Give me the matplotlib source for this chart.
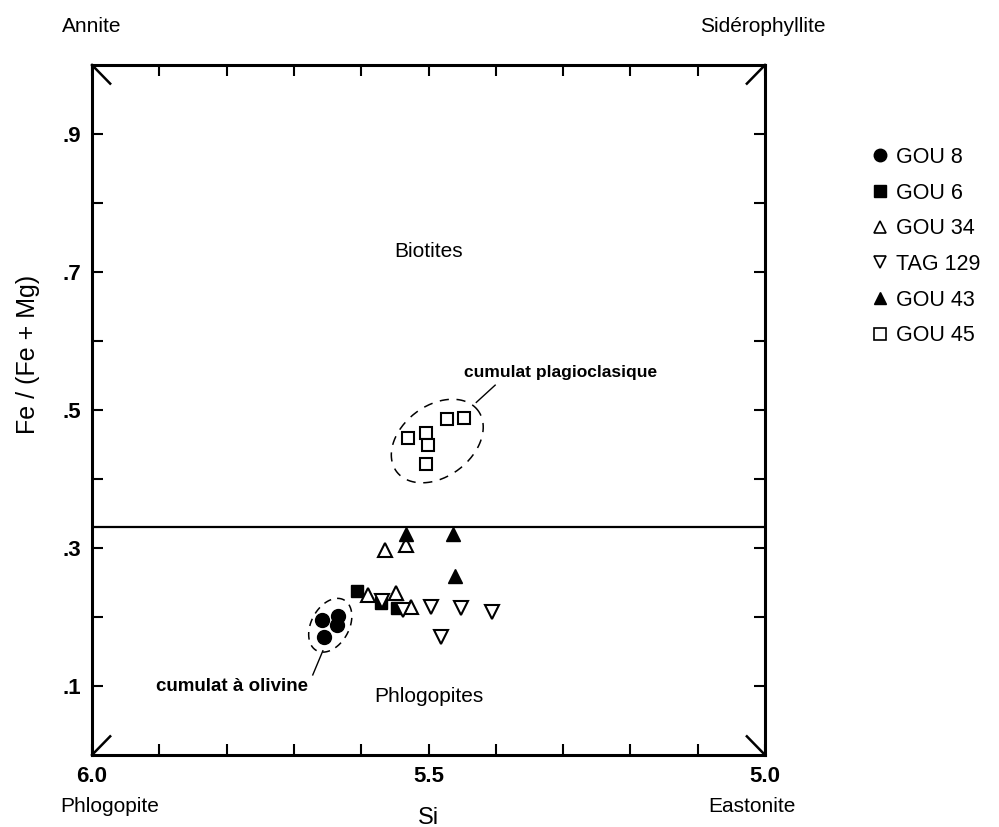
# Fe/(Fe+Mg) vs Si diagram for micas (phlogopite - biotite)
import numpy as np
import matplotlib.pyplot as plt
from matplotlib.lines import Line2D

plt.rcParams['font.family'] = ['Liberation Sans', 'DejaVu Sans']

# data
gou8_si = [5.658, 5.634, 5.636, 5.655]
gou8_fe = [0.196, 0.201, 0.188, 0.171]

gou6_si = [5.606, 5.571, 5.547]
gou6_fe = [0.238, 0.220, 0.213]

gou34_si = [5.565, 5.533, 5.590, 5.548, 5.526]
gou34_fe = [0.297, 0.304, 0.232, 0.235, 0.214]

tag129_si = [5.569, 5.538, 5.496, 5.481, 5.452, 5.406]
tag129_fe = [0.223, 0.210, 0.214, 0.171, 0.213, 0.207]

gou43_si = [5.533, 5.464, 5.461]
gou43_fe = [0.320, 0.320, 0.259]

gou45_si = [5.531, 5.504, 5.501, 5.504, 5.473, 5.448]
gou45_fe = [0.460, 0.467, 0.449, 0.422, 0.487, 0.489]

biotite_limit = 0.33

fig = plt.figure(figsize=(9.99, 8.27), dpi=100)
ax = fig.add_axes([0.0921, 0.0871, 0.6737, 0.8343])

ax.set_xlim(6.0, 5.0)
ax.set_ylim(0, 1.0)

ms = 10
ax.plot(gou8_si, gou8_fe, 'o', color='black', ms=ms, label='GOU 8')
ax.plot(gou6_si, gou6_fe, 's', color='black', ms=ms - 1, label='GOU 6')
ax.plot(gou34_si, gou34_fe, '^', mfc='white', mec='black', mew=1.5, ms=ms, label='GOU 34')
ax.plot(tag129_si, tag129_fe, 'v', mfc='white', mec='black', mew=1.5, ms=ms, label='TAG 129')
ax.plot(gou43_si, gou43_fe, '^', color='black', ms=ms, label='GOU 43')
ax.plot(gou45_si, gou45_fe, 's', mfc='white', mec='black', mew=1.5, ms=ms - 1, label='GOU 45')

ax.axhline(biotite_limit, color='black', lw=1.6)

# dashed envelopes around the cumulates
def envelope(u0, v0, a, b, ang):
    t = np.linspace(0, 2 * np.pi, 200)
    th = np.radians(ang)
    u = u0 + a * np.cos(t) * np.cos(th) - b * np.sin(t) * np.sin(th)
    v = v0 + a * np.cos(t) * np.sin(th) + b * np.sin(t) * np.cos(th)
    return 6.0 - u, v

ex, ey = envelope(0.513, 0.455, 0.075, 0.052, 35)
ax.plot(ex, ey, color='black', lw=1.1, ls=(0, (6, 5)))
ex, ey = envelope(0.354, 0.188, 0.042, 0.028, 60)
ax.plot(ex, ey, color='black', lw=1.1, ls=(0, (5, 4)))

# leader lines and labels
ax.plot([5.429, 5.401], [0.511, 0.536], color='black', lw=1)
ax.text(5.448, 0.555, 'cumulat plagioclasique', fontsize=12.5, fontweight='bold', va='center')
ax.plot([5.657, 5.672], [0.151, 0.116], color='black', lw=1)
ax.text(5.679, 0.0986, 'cumulat \u00e0 olivine', fontsize=13.5, fontweight='bold', va='center', ha='right')

ax.text(5.5, 0.73, 'Biotites', fontsize=15, ha='center', va='center')
ax.text(5.5, 0.085, 'Phlogopites', fontsize=15, ha='center', va='center')

# ticks inward on all sides
ax.set_xticks([6.0, 5.5, 5.0])
ax.set_xticklabels(['6.0', '5.5', '5.0'], fontsize=16, fontweight='bold')
ax.set_xticks([5.1, 5.2, 5.3, 5.4, 5.6, 5.7, 5.8, 5.9], minor=True)
ax.set_yticks([0.1, 0.3, 0.5, 0.7, 0.9])
ax.set_yticklabels(['.1', '.3', '.5', '.7', '.9'], fontsize=16, fontweight='bold')
ax.set_yticks([0.2, 0.4, 0.6, 0.8], minor=True)
ax.tick_params(which='both', direction='in', length=8, width=1.5,
               top=True, right=True, pad=8)
for s in ax.spines.values():
    s.set_linewidth(2.2)

ax.set_xlabel('Si', fontsize=17, labelpad=14)
ax.set_ylabel('Fe / (Fe + Mg)', fontsize=18)
ax.yaxis.set_label_coords(-0.077, 0.58)

# corner arrows toward the end-members
d = 0.027
for cx, cy, sx, sy in [(0, 1, 1, -1), (1, 1, -1, -1), (0, 0, 1, 1), (1, 0, -1, 1)]:
    ax.plot([cx, cx + sx * d], [cy, cy + sy * d], color='black', lw=1.8,
            transform=ax.transAxes, clip_on=False)

fig.text(92 / 999, 1 - 27 / 827, 'Annite', fontsize=15, ha='center', va='center')
fig.text(763 / 999, 1 - 27 / 827, 'Sid\u00e9rophyllite', fontsize=15, ha='center', va='center')
fig.text(110 / 999, 1 - 807 / 827, 'Phlogopite', fontsize=15, ha='center', va='center')
fig.text(752 / 999, 1 - 807 / 827, 'Eastonite', fontsize=15, ha='center', va='center')

handles = [
    Line2D([], [], marker='o', ls='', color='black', ms=9),
    Line2D([], [], marker='s', ls='', color='black', ms=8),
    Line2D([], [], marker='^', ls='', mfc='white', mec='black', mew=1.2, ms=9),
    Line2D([], [], marker='v', ls='', mfc='white', mec='black', mew=1.2, ms=9),
    Line2D([], [], marker='^', ls='', color='black', ms=9),
    Line2D([], [], marker='s', ls='', mfc='white', mec='black', mew=1.2, ms=8),
]
labels = ['GOU 8', 'GOU 6', 'GOU 34', 'TAG 129', 'GOU 43', 'GOU 45']
fig.legend(handles, labels, loc='upper left', bbox_to_anchor=(871 / 999, 1 - 147 / 827),
           frameon=False, fontsize=15.5, handlelength=0.8, handletextpad=0.35,
           labelspacing=0.68, borderaxespad=0, borderpad=0)

fig.savefig('out.png', dpi=100)
